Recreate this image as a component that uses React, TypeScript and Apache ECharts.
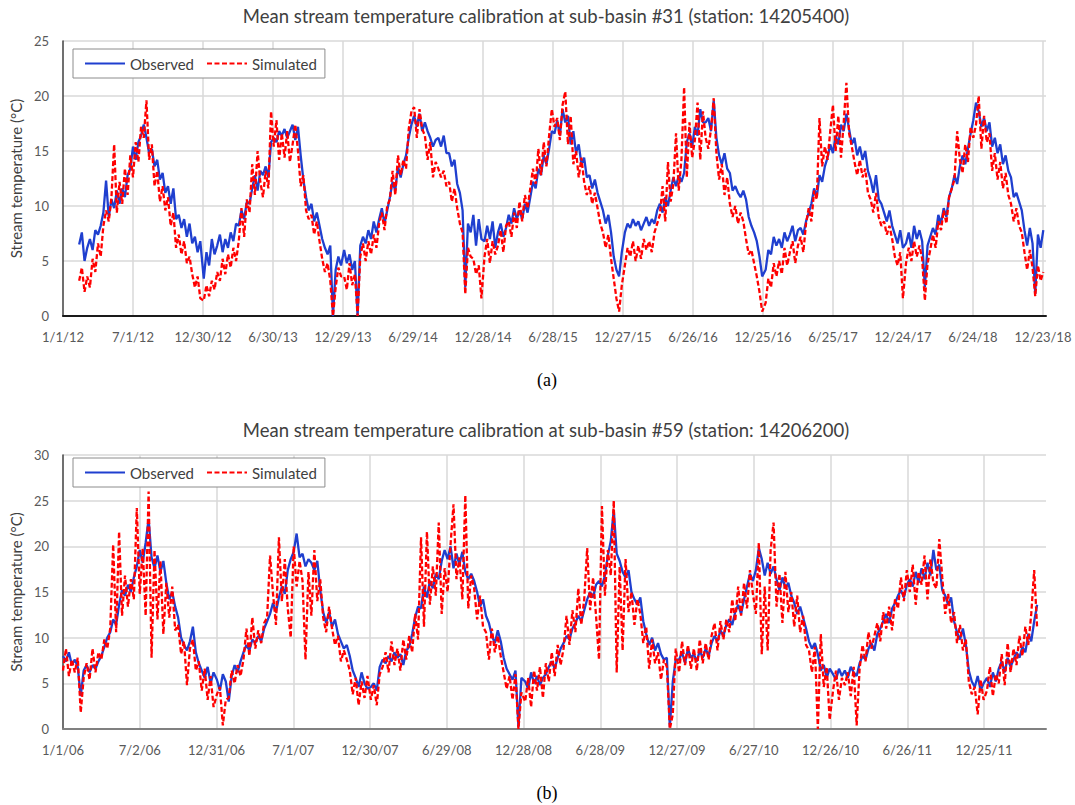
import React, { useEffect, useRef } from "react";
import * as echarts from "echarts";

// ---------- Panel (a): sub-basin #31, station 14205400 ----------
const A_TITLE = "Mean stream temperature calibration at sub-basin #31 (station: 14205400)";
const A_ORIGIN = Date.UTC(2012, 0, 1);
// first day (days after 1/1/12) of each yearly row, weekly values follow
const A_YEAR_START = [42, 366, 731, 1096, 1461, 1827, 2192];
const A_OBSERVED: number[][] = [
  [6.5, 7.6, 5.0, 6.2, 7.0, 6.0, 7.8, 7.4, 8.2, 9.4, 12.3, 9.0, 10.6, 9.8, 11.4, 10.2, 11.6, 10.8, 12.8, 13.4, 15.4, 14.2, 15.8, 16.4, 17.4, 16.2, 14.8, 15.2, 13.6, 14.2, 12.4, 13.0, 11.2, 11.8, 10.2, 11.6, 8.8, 9.2, 8.0, 8.8, 7.2, 8.4, 6.6, 7.2, 5.8, 6.8],
  [3.4, 5.8, 4.6, 7.0, 5.6, 6.4, 7.4, 5.8, 7.0, 6.2, 7.6, 6.8, 8.4, 8.2, 9.6, 8.8, 10.4, 10.2, 11.6, 12.8, 11.4, 13.2, 12.8, 13.6, 12.6, 15.8, 16.2, 15.8, 16.8, 16.4, 17.0, 16.2, 16.8, 17.4, 16.0, 17.2, 14.6, 12.4, 10.8, 9.6, 10.2, 8.6, 9.4, 8.2, 7.0, 6.2, 5.6, 6.4, 0.0, 4.2, 5.4, 4.6],
  [6.0, 4.8, 5.6, 4.2, 5.0, 0.0, 6.4, 7.2, 6.6, 7.8, 7.0, 8.6, 7.6, 8.8, 9.8, 8.4, 9.6, 10.8, 12.2, 11.4, 13.6, 12.6, 13.8, 14.6, 16.2, 17.4, 18.2, 17.2, 18.4, 16.8, 17.6, 16.8, 16.2, 15.4, 16.0, 16.2, 15.4, 16.4, 14.8, 14.8, 13.6, 14.2, 12.0, 11.2, 9.6, 2.6, 8.4, 7.6, 9.2, 6.4, 8.8, 7.0],
  [6.8, 8.2, 7.0, 8.6, 6.2, 7.6, 8.4, 7.2, 8.0, 9.2, 8.4, 9.8, 8.8, 9.6, 8.8, 10.2, 9.4, 10.8, 12.2, 11.6, 13.4, 12.8, 14.6, 13.8, 15.2, 16.8, 16.6, 17.8, 16.4, 18.8, 17.6, 18.2, 15.6, 16.8, 14.8, 15.6, 13.8, 14.4, 12.6, 12.8, 11.6, 12.4, 11.2, 10.4, 9.6, 8.4, 9.2, 7.6, 5.4, 4.2, 3.6, 5.8],
  [7.6, 8.4, 8.0, 8.8, 8.2, 8.6, 7.8, 8.4, 9.0, 8.2, 8.8, 8.4, 9.6, 10.2, 9.4, 10.8, 10.0, 11.4, 12.6, 11.8, 12.8, 12.2, 13.0, 15.8, 16.6, 15.4, 17.2, 16.4, 18.8, 17.6, 17.6, 18.0, 16.8, 19.6, 16.2, 14.6, 13.8, 14.8, 13.4, 13.0, 11.4, 11.8, 11.2, 10.8, 11.4, 10.6, 9.0, 8.2, 7.6, 6.8, 5.4, 3.6],
  [4.2, 6.0, 5.6, 7.2, 6.4, 7.0, 6.2, 7.6, 6.8, 7.4, 8.2, 6.8, 7.8, 8.0, 7.4, 8.6, 9.4, 10.2, 11.6, 10.8, 12.8, 12.2, 13.6, 14.4, 15.6, 14.8, 16.4, 15.6, 17.4, 16.8, 18.4, 17.0, 15.6, 16.2, 14.6, 15.4, 14.2, 15.0, 13.2, 12.4, 11.2, 12.8, 10.6, 10.2, 9.4, 8.6, 9.6, 8.2, 7.4, 6.6, 7.8, 6.2],
  [6.6, 7.6, 6.2, 8.2, 7.0, 7.8, 6.8, 2.6, 6.4, 7.2, 8.0, 7.4, 9.2, 8.4, 9.8, 9.0, 10.8, 11.6, 12.8, 12.0, 13.6, 14.6, 13.8, 15.2, 16.6, 17.8, 19.4, 18.6, 17.2, 18.0, 16.8, 17.6, 15.4, 16.2, 14.8, 15.6, 13.8, 14.6, 13.2, 12.6, 10.8, 11.2, 10.4, 9.6, 7.8, 6.4, 8.0, 6.6, 2.0, 7.4, 6.2, 7.8],
];
const A_SIMULATED: number[][] = [
  [3.2, 4.4, 2.2, 3.6, 2.6, 5.2, 4.0, 6.6, 5.4, 8.2, 9.6, 8.6, 10.8, 15.6, 9.4, 12.2, 10.2, 13.4, 11.0, 14.6, 12.6, 15.8, 14.0, 17.2, 16.2, 19.6, 14.2, 15.6, 11.8, 13.2, 10.4, 11.8, 9.6, 10.8, 8.2, 9.4, 6.2, 7.4, 5.6, 6.8, 4.8, 5.4, 3.8, 2.6, 3.6, 1.6],
  [1.4, 2.8, 1.8, 3.2, 2.4, 4.0, 3.2, 5.2, 3.8, 5.6, 4.4, 6.2, 5.0, 6.8, 9.8, 7.2, 10.6, 9.4, 13.8, 11.0, 15.0, 12.2, 10.8, 13.2, 11.6, 18.6, 15.4, 17.8, 14.2, 16.6, 14.4, 16.8, 14.0, 15.6, 17.4, 15.0, 11.8, 12.8, 9.6, 8.8, 9.2, 7.4, 8.6, 6.8, 5.2, 4.0, 4.8, 3.2, 0.0, 2.6, 4.4, 3.6],
  [3.6, 2.4, 4.8, 2.8, 3.8, 0.0, 5.4, 6.6, 5.0, 6.8, 5.6, 7.4, 6.2, 8.4, 9.4, 7.8, 10.0, 10.6, 13.2, 11.0, 14.6, 12.8, 14.2, 13.4, 17.0, 18.6, 19.0, 16.2, 18.8, 17.0, 16.4, 14.2, 15.8, 12.6, 14.0, 13.4, 12.6, 13.2, 11.8, 12.2, 10.4, 11.6, 9.8, 8.4, 7.6, 2.0, 6.2, 5.4, 5.2, 3.8, 4.6, 1.6],
  [5.4, 7.0, 4.8, 6.8, 5.6, 6.4, 7.8, 5.8, 8.2, 8.6, 7.2, 9.4, 8.0, 10.4, 8.6, 11.0, 9.8, 11.6, 13.4, 12.0, 15.2, 12.8, 15.8, 13.6, 16.4, 18.8, 17.2, 18.0, 16.0, 19.2, 20.4, 15.6, 18.2, 13.8, 15.0, 12.6, 14.4, 12.2, 11.0, 11.8, 10.2, 11.2, 9.8, 8.4, 7.6, 6.2, 7.4, 5.2, 3.4, 1.6, 0.4, 2.8],
  [4.6, 6.2, 5.4, 6.8, 5.0, 6.4, 5.2, 7.0, 6.0, 6.8, 5.8, 7.6, 8.4, 9.2, 11.8, 8.6, 14.0, 10.4, 12.0, 16.6, 11.4, 14.2, 20.8, 12.6, 17.6, 14.4, 16.0, 19.4, 14.2, 18.6, 16.2, 15.2, 17.0, 19.8, 14.8, 12.4, 13.8, 11.0, 12.6, 10.2, 9.0, 10.0, 8.4, 9.4, 8.6, 7.0, 5.6, 6.0, 4.8, 3.6, 2.2, 0.4],
  [1.2, 3.4, 2.6, 4.8, 3.6, 5.0, 3.8, 6.2, 4.6, 5.8, 6.8, 4.8, 6.4, 7.2, 5.8, 8.4, 9.8, 8.6, 11.4, 10.6, 18.0, 13.6, 15.4, 14.2, 16.8, 19.2, 15.0, 18.2, 14.4, 17.6, 21.2, 16.6, 15.4, 14.0, 12.8, 14.2, 12.6, 13.4, 11.2, 10.6, 9.4, 11.2, 9.0, 8.2, 8.6, 7.4, 8.2, 7.0, 5.4, 4.6, 5.8, 1.6],
  [4.8, 6.2, 5.0, 6.8, 5.4, 6.4, 5.2, 1.4, 4.8, 6.0, 7.4, 6.2, 8.6, 7.8, 9.6, 8.4, 10.8, 11.6, 12.4, 16.8, 14.2, 13.0, 15.6, 14.0, 17.2, 16.2, 17.4, 20.0, 15.2, 18.2, 15.8, 16.6, 13.2, 14.8, 12.4, 14.0, 11.6, 13.0, 11.0, 10.2, 8.6, 9.8, 8.2, 7.6, 5.8, 4.2, 6.0, 4.4, 1.8, 4.6, 3.2, 4.0],
];
const A_MAX_DAY = 2556;

// ---------- Panel (b): sub-basin #59, station 14206200 ----------
const B_TITLE = "Mean stream temperature calibration at sub-basin #59 (station: 14206200)";
const B_ORIGIN = Date.UTC(2006, 0, 1);
const B_YEAR_START = [0, 365, 730, 1096, 1461, 1826, 2191];
const B_OBSERVED: number[][] = [
  [8.0, 7.4, 8.4, 7.0, 7.6, 6.8, 3.6, 6.4, 7.0, 6.2, 7.0, 6.6, 7.4, 8.0, 9.0, 10.0, 10.6, 12.0, 11.4, 13.6, 15.2, 14.6, 15.8, 15.0, 16.6, 17.8, 19.6, 18.2, 20.4, 23.0, 18.8, 17.6, 19.0, 17.2, 18.4, 16.0, 14.2, 15.0, 13.4, 12.2, 10.0, 9.2, 8.6, 9.6, 11.2, 8.4, 7.2, 6.4, 5.6, 6.8, 5.0, 6.2],
  [5.4, 4.2, 6.0, 5.2, 3.0, 5.8, 7.0, 6.2, 7.4, 8.4, 9.2, 8.6, 9.8, 9.4, 10.2, 9.6, 11.0, 11.8, 12.6, 13.8, 12.8, 14.4, 15.6, 14.8, 17.4, 18.6, 19.4, 21.4, 18.8, 19.2, 17.8, 18.6, 18.2, 17.4, 18.4, 15.2, 12.8, 11.6, 12.8, 11.2, 12.0, 10.4, 9.6, 8.8, 9.2, 8.0, 6.4, 5.6, 4.6, 6.2, 5.0, 4.4],
  [4.6, 5.0, 4.2, 6.8, 7.6, 7.2, 8.0, 7.4, 8.4, 7.8, 8.2, 7.0, 8.6, 9.0, 10.4, 12.2, 13.4, 13.2, 15.6, 14.4, 16.2, 15.4, 17.0, 16.4, 18.4, 19.6, 18.6, 20.0, 17.6, 19.2, 18.0, 19.4, 17.2, 16.4, 17.0, 16.2, 15.0, 13.4, 14.2, 12.4, 11.6, 10.2, 9.4, 10.8, 9.6, 7.8, 6.6, 6.0, 5.4, 6.4, 0.2, 5.6],
  [5.2, 4.4, 6.2, 5.0, 5.8, 4.8, 5.6, 6.0, 6.8, 7.4, 6.6, 7.8, 8.8, 9.4, 10.2, 9.8, 11.0, 11.6, 12.4, 11.8, 13.0, 14.2, 15.0, 14.4, 15.8, 16.2, 15.6, 16.8, 19.0, 20.6, 24.0, 19.2, 18.4, 17.2, 16.6, 17.4, 15.0, 14.2, 13.6, 14.4, 11.8, 10.4, 9.2, 10.0, 8.6, 9.4, 8.2, 7.6, 7.8, 0.2, 5.2, 7.6],
  [7.6, 8.4, 7.2, 8.8, 7.8, 8.2, 7.4, 8.6, 7.8, 8.8, 8.0, 9.4, 10.2, 9.6, 10.8, 10.2, 11.4, 12.0, 11.4, 12.8, 13.6, 12.6, 14.2, 15.6, 17.0, 16.2, 17.4, 19.8, 18.6, 16.8, 18.2, 17.0, 17.8, 16.4, 15.2, 16.6, 15.4, 16.0, 14.6, 13.8, 12.6, 13.4, 12.2, 11.0, 9.6, 8.8, 9.4, 8.2, 6.4, 7.0, 5.6, 6.6],
  [6.0, 5.4, 6.6, 5.8, 6.4, 5.6, 6.8, 6.2, 5.8, 7.2, 8.0, 7.6, 8.8, 9.4, 8.6, 10.4, 11.0, 11.8, 12.6, 11.6, 13.2, 13.8, 14.6, 15.2, 14.4, 15.8, 16.4, 15.6, 17.2, 16.0, 17.6, 16.4, 18.2, 16.8, 19.6, 17.4, 18.0, 15.2, 14.6, 13.6, 14.4, 11.8, 10.6, 9.8, 11.0, 9.2, 6.4, 5.2, 4.6, 5.8, 4.2, 5.0],
  [5.6, 4.6, 6.2, 5.2, 6.6, 7.4, 6.2, 7.8, 6.8, 7.6, 8.4, 7.8, 9.0, 8.4, 10.4, 9.6, 11.8, 13.6],
];
const B_SIMULATED: number[][] = [
  [6.4, 8.8, 5.8, 7.6, 6.2, 7.8, 1.8, 5.6, 7.2, 5.4, 8.8, 6.2, 8.4, 7.6, 9.8, 8.8, 11.0, 20.2, 10.6, 21.6, 12.4, 16.8, 13.4, 16.4, 14.2, 24.2, 14.8, 19.8, 12.4, 26.0, 7.8, 19.6, 12.0, 18.4, 10.4, 16.0, 12.2, 15.6, 10.8, 11.4, 8.2, 9.6, 4.8, 8.8, 9.8, 6.4, 7.4, 4.2, 6.6, 3.2, 5.8, 2.4],
  [3.8, 4.6, 0.4, 3.2, 3.4, 6.4, 5.0, 7.0, 5.8, 7.6, 11.0, 8.0, 12.2, 8.8, 10.8, 9.4, 11.6, 12.2, 19.0, 14.8, 11.4, 21.0, 14.0, 18.6, 13.2, 10.0, 20.0, 15.6, 18.4, 16.2, 7.6, 17.2, 12.4, 19.6, 14.0, 16.4, 12.2, 10.6, 13.4, 11.0, 9.2, 10.2, 7.4, 8.6, 7.6, 6.4, 3.8, 5.6, 2.6, 5.2, 3.4, 5.8],
  [3.2, 4.8, 2.6, 6.0, 6.8, 8.4, 6.2, 9.6, 7.0, 8.8, 6.4, 9.8, 7.6, 10.2, 8.4, 12.6, 9.8, 21.0, 11.2, 21.6, 13.6, 17.8, 14.6, 22.6, 12.6, 17.6, 15.0, 20.2, 24.6, 16.4, 18.8, 14.2, 25.6, 13.2, 16.8, 15.4, 12.0, 14.6, 11.2, 10.6, 7.6, 11.0, 8.4, 10.2, 8.0, 6.2, 4.4, 5.8, 3.2, 6.0, 0.0, 4.0],
  [3.0, 5.6, 2.4, 6.4, 4.2, 6.8, 3.4, 7.2, 5.2, 8.4, 5.8, 9.2, 7.0, 8.8, 12.4, 9.2, 13.0, 10.6, 15.4, 11.4, 14.2, 19.8, 13.0, 16.6, 12.4, 7.6, 24.4, 14.6, 19.6, 16.8, 25.0, 6.2, 17.8, 8.6, 18.6, 12.8, 15.0, 11.4, 14.2, 12.6, 9.4, 11.2, 6.6, 9.8, 7.2, 8.4, 5.4, 7.6, 6.8, 0.0, 1.6, 8.8],
  [6.2, 9.6, 7.0, 9.2, 6.6, 8.8, 6.4, 9.8, 7.2, 9.4, 7.6, 10.2, 11.6, 8.6, 11.8, 9.8, 12.0, 10.6, 14.2, 11.8, 15.6, 12.4, 16.0, 13.2, 17.4, 14.8, 12.6, 20.4, 8.2, 15.6, 8.6, 19.6, 22.6, 13.4, 17.0, 11.6, 17.2, 12.8, 15.0, 11.2, 14.6, 10.6, 12.4, 9.2, 8.6, 6.2, 9.0, 0.0, 10.4, 4.6, 6.8, 1.0],
  [4.2, 6.4, 3.2, 5.6, 4.8, 6.2, 3.6, 6.8, 0.4, 6.6, 9.2, 7.4, 10.6, 8.8, 10.2, 11.6, 9.6, 12.8, 11.0, 13.4, 10.8, 14.2, 13.2, 16.6, 14.0, 17.4, 15.0, 18.0, 13.6, 17.2, 15.8, 19.0, 14.2, 18.6, 16.0, 15.4, 20.8, 16.6, 12.6, 14.8, 11.6, 12.8, 9.4, 11.4, 8.6, 9.8, 5.2, 3.8, 4.6, 1.6, 5.4, 3.2],
  [4.2, 6.8, 3.6, 6.0, 5.0, 8.2, 4.8, 9.4, 6.2, 8.8, 7.0, 10.2, 8.0, 11.2, 9.2, 12.6, 17.4, 11.0],
];
const B_MAX_DAY = 2331;

const WEEK_DAYS = 7;
const TICK_DAYS = 182;
const Y_TICKS_A = { min: 0, max: 25, interval: 5 };
const Y_TICKS_B = { min: 0, max: 30, interval: 5 };
const SERIES_NAMES = ["Observed", "Simulated"];

const FONT = "Lato, 'Open Sans', sans-serif";

function toPoints(starts: number[], rows: number[][]): number[][] {
  const out: number[][] = [];
  rows.forEach((row, y) => {
    row.forEach((v, i) => out.push([starts[y] + i * WEEK_DAYS, v]));
  });
  return out;
}

function dateLabel(origin: number) {
  return (v: number) => {
    if (Math.round(v) % TICK_DAYS !== 0) return "";
    const d = new Date(origin + v * 86400000);
    return `${d.getUTCMonth() + 1}/${d.getUTCDate()}/${String(d.getUTCFullYear()).slice(2)}`;
  };
}

export default function App() {
  const ref = useRef<HTMLDivElement>(null);
  useEffect(() => {
    document.body.style.margin = "0";
    const chart = echarts.init(ref.current!, undefined, { renderer: "svg" });
    const gridA = { left: 63, top: 41, width: 983, height: 275 };
    const gridB = { left: 63, top: 455, width: 983, height: 274 };
    const xAxisCommon = (max: number, origin: number, lineColor: string) => ({
      type: "value",
      min: 0,
      max,
      interval: TICK_DAYS,
      axisLine: { show: true, lineStyle: { color: lineColor, width: 2 } },
      axisTick: { show: false },
      axisLabel: {
        formatter: dateLabel(origin),
        color: "#595959",
        fontSize: 13,
        fontFamily: FONT,
        margin: 14,
        showMaxLabel: false,
      },
      splitLine: { show: true, showMinLine: false, showMaxLine: false, lineStyle: { color: "#d9d9d9", width: 1.5 } },
    });
    const yAxisCommon = (ticks: { min: number; max: number; interval: number }) => ({
      type: "value",
      ...ticks,
      name: "Stream temperature (\u00B0C)",
      nameLocation: "middle",
      nameGap: 36,
      nameTextStyle: { fontSize: 15, color: "#404040", fontFamily: FONT },
      axisLine: { show: true, lineStyle: { color: "#404040", width: 1.5 } },
      axisTick: { show: false },
      axisLabel: { color: "#595959", fontSize: 13, fontFamily: FONT, margin: 14 },
      splitLine: { show: true, lineStyle: { color: "#d9d9d9", width: 1.5 } },
    });
    const legendCommon = (top: number) => ({
      left: 73,
      top,
      data: SERIES_NAMES,
      orient: "horizontal",
      itemWidth: 40,
      itemHeight: 12,
      itemGap: 12,
      padding: [7, 8, 7, 11],
      borderColor: "#8c8c8c",
      borderWidth: 1,
      backgroundColor: "#ffffff",
      itemStyle: { opacity: 0 },
      textStyle: { fontSize: 15, color: "#404040", fontFamily: FONT },
    });
    const line = (name: string, xi: number, data: number[][], color: string, dashed: boolean) => ({
      name,
      type: "line",
      xAxisIndex: xi,
      yAxisIndex: xi,
      data,
      symbol: "none",
      showSymbol: false,
      lineStyle: { color, width: 2.3, type: dashed ? [5, 2.5] : "solid" },
      itemStyle: { color },
      z: dashed ? 3 : 2,
    });
    chart.setOption({
      animation: false,
      backgroundColor: "#ffffff",
      grid: [gridA, gridB],
      xAxis: [
        { ...xAxisCommon(A_MAX_DAY, A_ORIGIN, "#1a1a1a"), gridIndex: 0 },
        { ...xAxisCommon(B_MAX_DAY, B_ORIGIN, "#808080"), gridIndex: 1 },
      ],
      yAxis: [
        { ...yAxisCommon(Y_TICKS_A), gridIndex: 0 },
        { ...yAxisCommon(Y_TICKS_B), gridIndex: 1 },
      ],
      legend: [legendCommon(49), legendCommon(458)],
      series: [
        line(SERIES_NAMES[0], 0, toPoints(A_YEAR_START, A_OBSERVED), "#1f3fcf", false),
        line(SERIES_NAMES[1], 0, toPoints(A_YEAR_START, A_SIMULATED), "#ff0000", true),
        line(SERIES_NAMES[0], 1, toPoints(B_YEAR_START, B_OBSERVED), "#1f3fcf", false),
        line(SERIES_NAMES[1], 1, toPoints(B_YEAR_START, B_SIMULATED), "#ff0000", true),
      ],
      graphic: [
        { type: "text", x: 546, y: 16, style: { text: A_TITLE, fill: "#404040", font: `18.5px ${FONT}`, textAlign: "center", textVerticalAlign: "middle" } },
        { type: "text", x: 546, y: 430, style: { text: B_TITLE, fill: "#404040", font: `18.5px ${FONT}`, textAlign: "center", textVerticalAlign: "middle" } },
        { type: "text", x: 547, y: 380, style: { text: "(a)", fill: "#000000", font: "18px 'Liberation Serif', serif", textAlign: "center", textVerticalAlign: "middle" } },
        { type: "text", x: 547, y: 793, style: { text: "(b)", fill: "#000000", font: "18px 'Liberation Serif', serif", textAlign: "center", textVerticalAlign: "middle" } },
      ],
    });
    return () => chart.dispose();
  }, []);
  return <div ref={ref} style={{ width: 1075, height: 805 }} />;
}
